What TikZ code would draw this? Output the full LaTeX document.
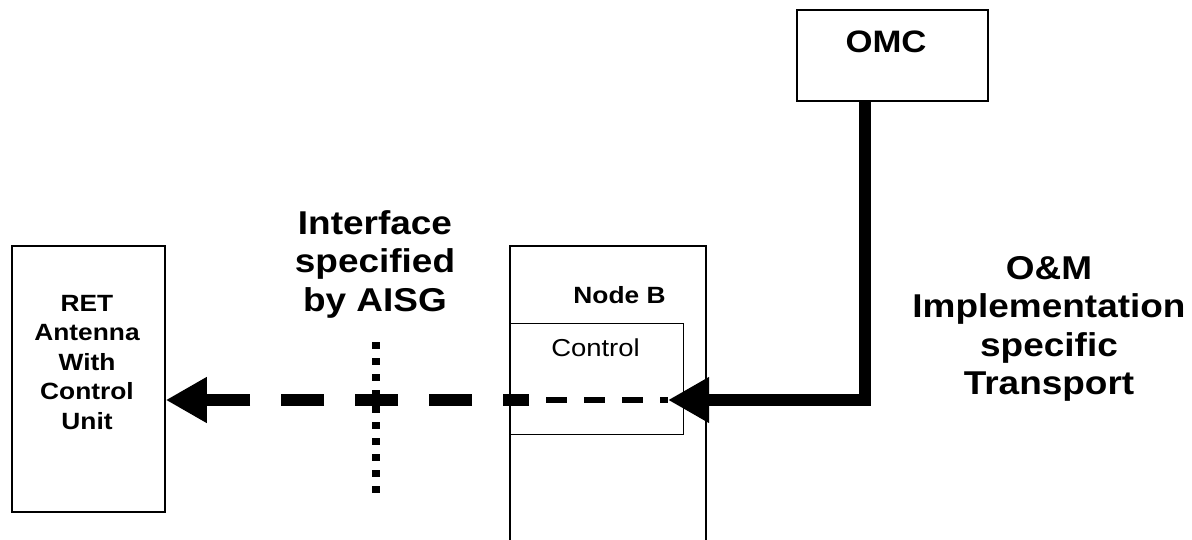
\documentclass[tikz,border=0pt]{standalone}
\usepackage{fontspec}
\setmainfont{Liberation Sans}[FakeStretch=1.12]
\usetikzlibrary{arrows.meta,positioning}
\tikzset{
block/.style = {draw, line width=1.5pt, fill=white, rectangle, inner sep=0pt},
bigtext/.style = {font=\bfseries\fontsize{33}{38.5}\selectfont, align=center, inner sep=0pt},
smalltext/.style = {font=\bfseries\fontsize{23.5}{29.5}\selectfont, align=center, inner sep=0pt},
thickline/.style = {line width=12pt},
thinline/.style = {line width=6pt},
bigarrow/.style = {-{Triangle[length=41pt,width=43pt]}}
}

\begin{document}
\begin{tikzpicture}[x=1pt, y=-1pt]
                \useasboundingbox (0,0) rectangle (1192,540);
                \clip (0,0) rectangle (1192,540);

                % boxes
                \node [block, minimum width=153pt, minimum height=266pt] (ret) at (88.5,379) {};
                \node [block, minimum width=196pt, minimum height=320pt] (nodeb) at (608,406) {};
                \node [block, line width=1pt, minimum width=173pt, minimum height=111pt] (control) at (596.5,378.5) {};
                \node [block, minimum width=191pt, minimum height=91pt] (omc) at (892.5,55.5) {};

                % labels
                \node [smalltext, anchor=north] (retlabel) at (87,295) {RET\\Antenna\\With\\Control\\Unit};
                \node [smalltext, anchor=base] (nodeblabel) at (619.5,304) {Node B};
                \node [font=\fontsize{24.5}{29}\selectfont, inner sep=0pt, anchor=base] (controllabel) at (595.5,356) {Control};
                \node [bigtext, font=\bfseries\fontsize{31}{40}\selectfont, anchor=base] (omclabel) at (886,53) {OMC};
                \node [bigtext, anchor=north] (aisg) at (375,210) {Interface\\specified\\by AISG};
                \node [bigtext, anchor=north] (transport) at (1049,256) {O\&M\\Implementation\\specific\\Transport};

                % connectors
                \coordinate (ctrlin) at (668,400);
                \coordinate (split) at (529,400);
                \coordinate (aisgtop) at (376,342);
                \coordinate (aisgbot) at (376,494);
                \draw [thinline, dash pattern=on 21pt off 17pt, dash phase=21pt] (split) -- (ctrlin);
                \draw [thickline, bigarrow, dash pattern=on 43pt off 31pt, dash phase=17pt] (split) -- (split -| ret.east);
                \draw [thickline, bigarrow] ([xshift=-27.5pt]omc.south) |- (ctrlin);
                \draw [line width=8pt, dash pattern=on 7pt off 9pt] (aisgtop) -- (aisgbot);
\end{tikzpicture}
\end{document}
